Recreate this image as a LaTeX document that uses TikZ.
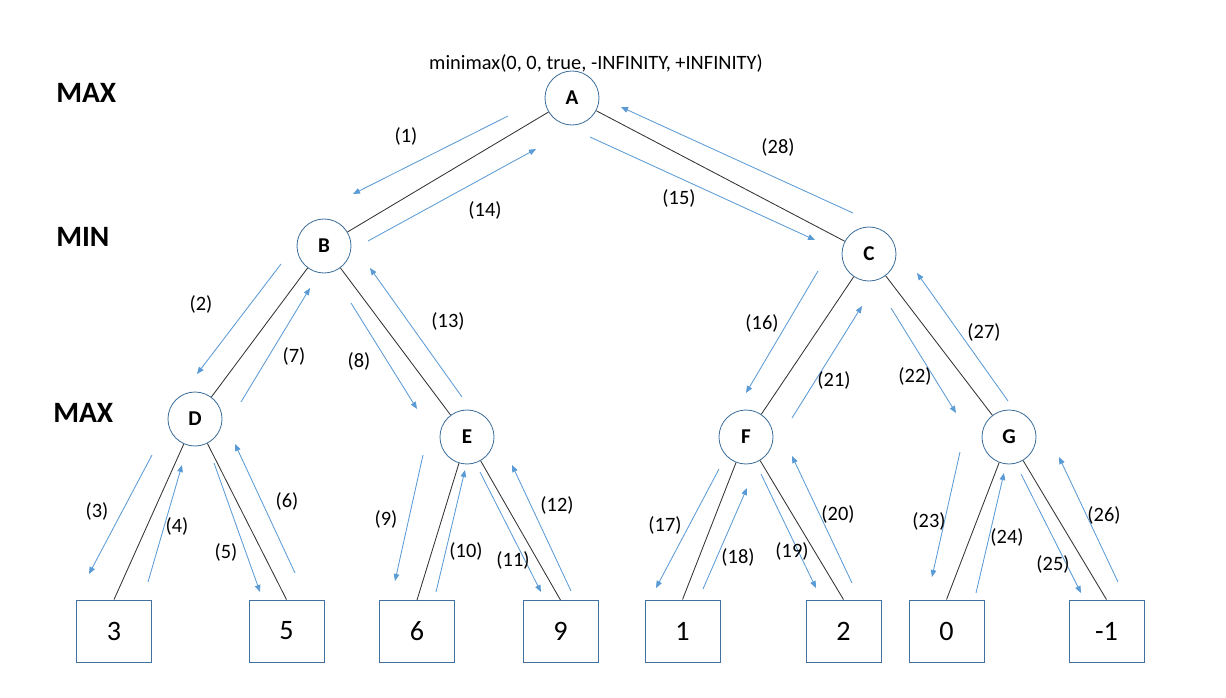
\documentclass[tikz,border=0pt]{standalone}
\usepackage{fontspec}
\setmainfont{Carlito}
\usetikzlibrary{arrows.meta}
\definecolor{nodeblue}{HTML}{41719C}
\definecolor{arrowblue}{HTML}{5B9BD5}
\tikzset{
  state/.style={circle, draw=nodeblue, line width=0.6pt, minimum size=1.35cm, inner sep=0pt,
    font=\fontsize{15}{18}\selectfont\bfseries},
  leaf/.style={rectangle, draw=nodeblue, line width=0.6pt, minimum width=1.875cm,
    minimum height=1.55cm, inner sep=0pt, font=\fontsize{20}{24}\selectfont},
  branch/.style={draw=black!80, line width=0.6pt},
  walk/.style={draw=arrowblue, line width=0.6pt, -{Triangle[length=5pt,width=4pt]}},
  callno/.style={font=\fontsize{14.5}{17}\selectfont},
  rowname/.style={anchor=west, inner sep=0pt, font=\fontsize{21}{25}\selectfont\bfseries}
}
\begin{document}
\begin{tikzpicture}[x=0.025cm, y=-0.025cm]
  \useasboundingbox (0,0) rectangle (1226,698);
  % call of the root
  \node[font=\fontsize{14.5}{17}\selectfont] (call) at (596,63) {minimax(0, 0, true, -INFINITY, +INFINITY)};
  % levels
  \node[rowname] (max1) at (56,93) {MAX};
  \node[rowname] (min1) at (56,237) {MIN};
  \node[rowname] (max2) at (53,413) {MAX};
  % inner nodes
  \node[state] (A) at (572,98) {A};
  \node[state] (B) at (324,246) {B};
  \node[state] (C) at (869,254) {C};
  \node[state] (D) at (195,419) {D};
  \node[state] (E) at (467,437) {E};
  \node[state] (F) at (746,437) {F};
  \node[state] (G) at (1009,437) {G};
  % leaves
  \node[leaf] (DL) at (114,631) {3};
  \node[leaf] (DR) at (286.5,631) {5};
  \node[leaf] (EL) at (417,631.5) {6};
  \node[leaf] (ER) at (560.5,631.5) {9};
  \node[leaf] (FL) at (682.5,631) {1};
  \node[leaf] (FR) at (843.5,631) {2};
  \node[leaf] (GL) at (946.5,631) {0};
  \node[leaf] (GR) at (1106.5,631) {-1};
  % tree edges
  \draw[branch] (A) -- (B);
  \draw[branch] (A) -- (C);
  \draw[branch] (B) -- (D);
  \draw[branch] (B) -- (E);
  \draw[branch] (C) -- (F);
  \draw[branch] (C) -- (G);
  \draw[branch] (D) -- (DL.north);
  \draw[branch] (D) -- (DR.north);
  \draw[branch] (E) -- (EL.north);
  \draw[branch] (E) -- (ER.north);
  \draw[branch] (F) -- (FL.north);
  \draw[branch] (F) -- (FR.north);
  \draw[branch] (G) -- (GL.north);
  \draw[branch] (G) -- (GR.north);
  % order of the search
  \foreach \xa/\ya/\xb/\yb/\n/\lx/\ly in {
      508/116/353/194/1/406/136, 368/241/536/149/14/485/210,
      590/137/815/240/15/679/198, 853/213/621/107/28/778/147,
      281/264/197/374/2/201/304, 241/402/310/288/7/294/356,
      351/303/417/409/8/359/361, 462/397/370/268/13/448/321,
      152/455/89/574/3/97/511, 148/582/182/465/4/177/526,
      214/463/260/592/5/226/552, 295/573/235/444/6/287/501,
      423/455/395/581/9/386/519, 436/592/465/470/10/466/551,
      480/472/541/592/11/513/560, 571/591/512/465/12/557/505,
      818/271/746/393/16/762/323, 792/418/862/306/21/834/380,
      891/308/956/413/22/915/376, 1008/401/917/273/27/984/332,
      719/469/656/588/17/665/525, 703/589/747/488/18/738/557,
      761/474/816/588/19/792/551, 852/583/792/456/20/838/514,
      960/452/932/577/23/929/521, 976/593/1004/473/24/1007/537,
      1021/474/1081/593/25/1053/564, 1118/582/1059/457/26/1104/515}
  {
    \draw[walk] (\xa,\ya) -- (\xb,\yb);
    \node[callno] (k\n) at (\lx,\ly) {(\n)};
  }
\end{tikzpicture}
\end{document}
